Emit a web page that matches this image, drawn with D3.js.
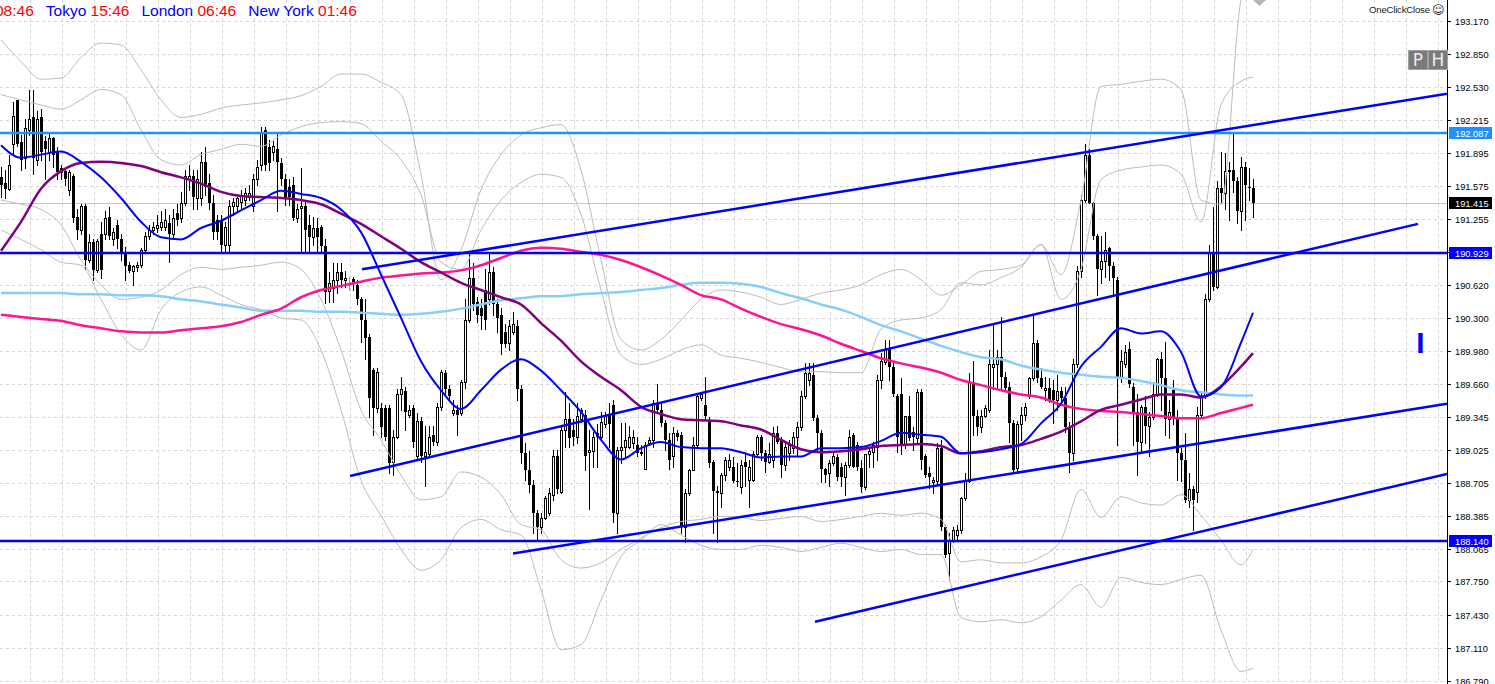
<!DOCTYPE html>
<html><head><meta charset="utf-8">
<script src="https://cdn.jsdelivr.net/npm/d3@7"></script>
<style>
html,body{margin:0;padding:0;background:#fff;overflow:hidden}
svg{display:block}
</style></head><body>
<svg id="c" width="1495" height="684"></svg>
<script>
// ---------------- DATA ----------------
const opens = [191.66,191.61,191.55,191.98,192.41,192.00,191.85,192.12,192.24,191.83,
192.24,192.01,191.91,192.04,191.91,191.75,191.72,191.54,191.67,191.28,
191.15,191.38,190.86,191.03,190.76,191.11,191.11,191.28,191.06,191.20,
191.06,190.93,190.81,190.75,190.79,190.81,190.96,191.09,191.15,191.17,
191.18,191.18,191.22,191.11,191.32,191.27,191.41,191.64,191.67,191.46,
191.46,191.81,191.61,191.41,191.25,191.25,191.01,191.01,191.38,191.38,
191.42,191.44,191.47,191.38,191.64,191.78,192.12,191.95,191.91,191.93,
191.80,191.64,191.57,191.59,191.27,191.36,191.38,191.20,191.08,191.17,
191.18,191.00,190.56,190.59,190.67,190.74,190.67,190.64,190.68,190.62,
190.48,190.28,190.12,189.80,189.43,189.43,189.43,189.43,188.91,189.15,
189.56,189.59,189.36,189.43,188.96,189.30,188.96,188.98,189.17,189.10,
189.44,189.77,189.61,189.38,189.41,189.38,189.68,190.28,190.69,190.45,
190.40,190.57,190.48,190.74,190.43,190.33,190.16,190.06,190.16,190.22,
189.61,188.99,188.83,188.68,188.41,188.28,188.36,188.41,188.59,188.96,
188.62,189.22,189.32,189.22,189.15,189.32,189.36,189.00,189.01,189.19,
189.15,189.27,189.36,189.46,188.41,189.02,189.05,189.05,189.09,189.07,
188.99,188.84,189.09,189.12,189.48,189.41,189.28,189.12,188.96,189.19,
189.17,188.28,188.61,188.83,189.07,189.53,189.46,189.31,188.91,188.63,
188.61,188.78,188.86,188.86,188.72,188.66,188.91,188.73,188.73,188.98,
189.15,188.99,188.91,188.93,189.19,189.12,188.88,188.99,189.04,189.15,
189.24,189.54,189.70,189.75,189.33,189.19,188.84,188.80,188.90,188.95,
188.86,188.76,188.88,189.17,189.07,188.85,188.66,188.98,189.00,189.05,
189.70,189.87,190.01,189.83,189.54,189.56,189.07,189.35,189.20,189.14,
189.58,188.96,188.80,188.71,188.72,189.04,188.28,188.03,188.15,188.20,
188.25,188.56,188.72,189.68,189.35,189.24,189.35,189.41,189.83,189.85,
189.92,189.73,189.63,189.28,188.85,189.27,189.36,189.54,189.72,190.06,
189.72,189.60,189.62,189.60,189.51,189.59,189.53,189.24,188.99,189.85,
190.75,191.44,191.88,191.41,191.09,190.77,190.85,190.98,190.80,190.67,
189.72,189.85,190.00,189.63,189.39,189.10,189.44,189.25,189.34,189.56,
189.90,189.72,189.32,189.60,189.32,188.99,188.93,188.54,188.64,188.62,
189.36,189.54,190.48,190.93,190.60,191.56,191.51,191.72,191.73,191.62,
191.33,191.76,191.57,191.56];

const highs = [191.76,191.73,191.88,192.39,192.41,192.07,192.22,192.51,192.51,192.30,
192.32,192.06,192.10,192.05,191.95,191.78,191.73,191.73,191.69,191.35,
191.40,191.40,191.11,191.06,191.06,191.23,191.33,191.37,191.17,191.25,
191.11,190.99,190.84,190.81,190.84,190.98,191.13,191.20,191.23,191.30,
191.33,191.35,191.30,191.35,191.40,191.52,191.73,191.78,191.73,191.73,
191.91,191.95,191.69,191.49,191.30,191.30,191.23,191.44,191.46,191.49,
191.54,191.56,191.59,191.69,191.83,192.15,192.15,192.02,192.01,192.10,
191.85,191.69,191.64,191.66,191.40,191.75,191.44,191.30,191.28,191.27,
191.20,191.06,190.74,190.83,190.83,190.83,190.75,190.70,190.70,190.67,
190.50,190.48,190.14,189.82,189.82,189.48,189.46,189.46,189.22,189.61,
189.73,189.63,189.46,189.46,189.38,189.34,189.25,189.25,189.25,189.48,
189.80,189.80,189.65,189.51,189.46,189.70,190.48,190.93,190.83,190.50,
190.48,190.77,190.94,190.79,190.48,190.40,190.24,190.28,190.36,190.28,
189.65,189.09,189.01,188.73,188.44,188.41,188.58,188.65,189.02,189.02,
189.24,189.58,189.48,189.32,189.48,189.43,189.41,189.22,189.20,189.27,
189.39,189.39,189.48,189.51,189.05,189.28,189.28,189.25,189.22,189.15,
189.07,189.10,189.15,189.51,189.66,189.49,189.31,189.19,189.24,189.22,
189.20,188.64,188.84,189.15,189.56,189.58,189.73,189.34,188.93,188.67,
188.80,188.95,188.98,188.95,188.90,188.93,189.00,188.93,189.01,189.17,
189.17,189.02,189.09,189.24,189.25,189.15,189.09,189.12,189.20,189.29,
189.59,189.86,189.86,189.86,189.36,189.22,188.85,188.93,188.99,188.98,
188.90,188.91,189.22,189.19,189.10,188.93,188.98,189.05,189.10,189.75,
189.96,190.09,190.09,189.88,189.56,189.72,189.35,189.54,189.24,189.61,
189.61,188.98,188.86,188.76,189.09,189.12,188.30,188.22,188.28,188.30,
188.57,188.80,189.77,189.88,189.41,189.41,189.46,189.99,190.24,189.99,
190.31,189.78,189.68,189.31,189.30,189.44,189.48,189.73,190.33,190.09,
189.82,189.73,189.72,189.70,189.75,189.63,189.63,189.29,189.90,190.80,
191.49,191.98,191.93,191.42,191.11,191.09,191.13,190.99,190.84,190.70,
189.99,190.04,190.07,189.67,189.56,189.46,189.54,189.39,189.68,189.91,
189.97,190.07,189.51,189.70,189.41,189.04,189.19,188.80,188.67,189.44,
189.59,190.53,191.01,191.37,191.62,191.91,191.90,191.81,192.09,191.66,
191.86,191.81,191.75,191.64];

const lows = [191.47,191.46,191.54,191.88,191.96,191.73,191.75,192.07,191.69,191.78,
191.83,191.64,191.83,191.76,191.64,191.64,191.59,191.49,191.23,191.06,
191.11,190.77,190.84,190.67,190.74,190.69,191.06,191.06,191.01,190.98,
190.86,190.67,190.74,190.62,190.75,190.79,190.94,191.06,191.11,191.13,
191.15,191.15,190.84,191.08,191.20,191.23,191.39,191.54,191.35,191.35,
191.39,191.49,191.35,191.06,191.06,190.94,190.94,190.94,191.30,191.33,
191.36,191.39,191.44,191.33,191.59,191.73,191.73,191.73,191.83,191.33,
191.59,191.39,191.39,191.25,191.23,190.93,190.94,190.94,191.01,190.93,
190.93,190.44,190.45,190.45,190.54,190.60,190.60,190.57,190.57,190.43,
190.07,189.90,189.34,189.17,189.39,189.15,189.12,188.80,188.78,189.14,
189.41,189.22,189.34,189.05,188.93,188.91,188.67,188.96,189.07,189.07,
189.41,189.56,189.51,189.36,189.17,189.36,189.62,190.26,190.38,190.26,
190.19,190.19,190.43,190.33,190.16,189.95,190.02,189.99,190.14,189.51,
188.90,188.73,188.62,188.22,188.15,188.22,188.35,188.39,188.54,188.61,
188.61,189.05,189.05,189.07,189.09,189.29,188.83,188.45,188.86,188.86,
189.12,189.24,189.05,188.33,188.22,188.90,188.96,189.04,189.04,188.96,
188.97,188.84,189.07,189.05,189.38,189.25,189.02,188.84,188.86,189.12,
188.22,188.13,188.59,188.83,189.05,189.51,189.31,188.86,188.22,188.13,
188.47,188.73,188.83,188.71,188.67,188.61,188.67,188.47,188.72,188.96,
188.93,188.81,188.90,188.86,189.09,188.76,188.83,188.93,188.99,188.96,
189.22,189.53,189.65,189.31,189.02,188.71,188.71,188.67,188.88,188.73,
188.67,188.59,188.86,188.86,188.83,188.62,188.64,188.86,188.86,188.93,
189.62,189.85,189.70,189.54,189.00,188.98,189.04,189.12,189.02,189.09,
188.84,188.76,188.65,188.61,188.69,188.25,187.99,187.77,188.13,188.15,
188.22,188.54,188.71,189.17,189.17,189.20,189.34,189.39,189.61,189.61,
189.61,189.61,189.10,188.81,188.80,189.12,189.31,189.53,189.70,189.68,
189.62,189.51,189.49,189.28,189.41,189.46,189.20,188.81,188.93,189.83,
190.70,191.42,191.41,191.06,190.52,190.64,190.70,190.67,190.52,189.07,
189.68,189.83,189.63,189.07,188.78,188.99,189.09,188.96,189.32,189.54,
189.41,189.17,189.14,189.27,188.73,188.72,188.52,188.47,188.25,188.52,
189.34,189.53,190.46,190.57,190.59,191.41,191.35,191.25,191.52,191.22,
191.15,191.25,191.44,191.28];

const closes = [191.59,191.55,191.78,192.25,191.98,191.83,192.14,192.22,191.85,192.22,
191.91,191.93,192.04,191.88,191.71,191.70,191.64,191.71,191.27,191.15,
191.38,190.86,191.03,190.76,191.04,190.76,191.27,191.09,191.13,191.06,
190.93,190.80,190.75,190.80,190.81,190.96,191.09,191.15,191.18,191.20,
191.23,191.25,191.11,191.27,191.25,191.41,191.67,191.67,191.47,191.64,
191.81,191.57,191.41,191.13,191.13,191.01,191.18,191.38,191.42,191.46,
191.49,191.51,191.51,191.64,191.76,192.10,191.78,191.80,191.96,191.81,
191.64,191.47,191.47,191.27,191.35,191.38,191.15,191.08,191.17,191.08,
191.00,190.55,190.64,190.67,190.74,190.67,190.69,190.64,190.63,190.48,
190.28,190.11,189.53,189.43,189.78,189.24,189.15,188.90,189.15,189.56,
189.61,189.39,189.41,189.10,189.30,188.96,189.00,189.15,189.10,189.44,
189.78,189.61,189.54,189.41,189.36,189.68,190.28,190.69,190.43,190.33,
190.32,190.28,190.74,190.43,190.30,190.05,190.05,190.22,190.24,189.61,
188.99,188.83,188.68,188.41,188.28,188.36,188.56,188.61,188.96,188.64,
189.22,189.32,189.14,189.15,189.35,189.41,188.96,189.02,189.15,189.15,
189.29,189.35,189.27,188.41,189.02,189.05,189.12,189.15,189.15,188.99,
189.00,189.07,189.12,189.48,189.41,189.28,189.12,188.93,189.19,189.15,
188.28,188.61,188.83,189.07,189.54,189.56,189.35,188.90,188.63,188.61,
188.78,188.93,188.93,188.72,188.71,188.88,188.86,188.86,188.98,189.15,
188.99,188.91,188.98,189.19,189.10,188.88,189.05,189.07,189.15,189.24,
189.54,189.77,189.77,189.33,189.19,188.84,188.78,188.90,188.96,188.76,
188.76,188.88,189.15,188.86,188.86,188.66,188.98,189.01,189.07,189.70,
189.88,189.99,189.83,189.56,189.15,189.07,189.35,189.14,189.15,189.58,
188.93,188.78,188.76,188.73,189.04,188.28,188.01,188.15,188.25,188.25,
188.56,188.73,189.68,189.35,189.24,189.35,189.43,189.85,189.85,189.92,
189.73,189.62,189.28,188.83,189.27,189.36,189.44,189.72,190.06,189.72,
189.63,189.62,189.51,189.51,189.59,189.53,189.24,188.99,189.85,190.75,
191.44,191.88,191.41,191.09,190.77,190.85,190.96,190.80,190.69,189.72,
189.88,189.97,189.66,189.39,189.10,189.44,189.25,189.34,189.56,189.90,
189.72,189.32,189.39,189.32,188.99,188.93,188.54,188.64,188.54,189.36,
189.54,190.48,190.93,190.60,191.56,191.51,191.72,191.73,191.62,191.33,
191.76,191.59,191.56,191.415];

// indicator lines, sampled every 5 bars (bar 0,5,...,310) plus last bar 313
const maBlue = [191.97,191.85,191.88,191.91,191.81,191.66,191.46,191.23,191.08,191.06,191.17,191.24,191.34,191.44,191.53,191.50,191.46,191.35,191.13,190.72,190.30,189.88,189.60,189.42,189.60,189.80,189.90,189.79,189.60,189.39,189.12,188.93,189.04,189.10,189.05,189.04,189.04,189.00,188.95,188.96,188.96,189.04,189.04,189.05,189.11,189.19,189.17,189.15,188.99,189.00,189.03,189.08,189.28,189.47,189.83,190.02,190.20,190.15,190.17,189.97,189.54,189.63,190.06,190.35];
const maPurple = [190.95,191.23,191.55,191.72,191.80,191.81,191.80,191.77,191.71,191.66,191.60,191.52,191.48,191.47,191.46,191.44,191.40,191.31,191.21,191.09,190.97,190.84,190.74,190.64,190.57,190.50,190.43,190.25,190.08,189.88,189.73,189.60,189.44,189.37,189.32,189.31,189.30,189.26,189.22,189.12,189.03,189.00,189.01,189.03,189.06,189.07,189.08,189.06,188.99,189.01,189.05,189.07,189.13,189.20,189.30,189.41,189.46,189.51,189.56,189.56,189.53,189.64,189.83,189.96];
const maPink = [190.33,190.31,190.29,190.27,190.23,190.20,190.17,190.16,190.16,190.18,190.20,190.22,190.26,190.33,190.39,190.50,190.57,190.61,190.65,190.69,190.71,190.73,190.74,190.76,190.81,190.88,190.95,190.98,190.97,190.94,190.91,190.86,190.79,190.71,190.62,190.52,190.48,190.39,190.31,190.24,190.19,190.13,190.05,189.98,189.91,189.86,189.82,189.77,189.70,189.65,189.60,189.56,189.53,189.46,189.42,189.40,189.39,189.37,189.35,189.33,189.33,189.38,189.43,189.46];
const maLightBlue = [190.54,190.54,190.54,190.54,190.53,190.53,190.52,190.52,190.51,190.48,190.46,190.43,190.40,190.37,190.37,190.37,190.36,190.36,190.35,190.34,190.33,190.34,190.36,190.39,190.43,190.47,190.49,190.51,190.51,190.53,190.54,190.55,190.57,190.59,190.62,190.64,190.64,190.63,190.60,190.54,190.49,190.43,190.38,190.31,190.23,190.17,190.10,190.03,189.97,189.92,189.90,189.84,189.80,189.77,189.75,189.73,189.72,189.69,189.65,189.60,189.58,189.56,189.55,189.55];
const bandUpperOuter = [192.99,192.78,192.61,192.62,192.82,192.96,192.94,192.70,192.41,192.24,192.27,192.33,192.36,192.38,192.41,192.45,192.54,192.66,192.66,192.58,192.46,191.69,190.67,190.96,191.54,191.88,192.07,192.14,192.17,191.73,190.86,190.09,189.99,190.09,190.28,190.48,190.57,190.55,190.50,190.43,190.48,190.54,190.57,190.62,190.72,190.77,190.67,190.52,190.62,190.75,190.77,190.81,191.01,190.72,191.44,192.54,192.56,192.59,192.61,192.51,191.44,191.40,193.38,193.67];
const bandUpperInner = [192.46,192.41,192.36,192.32,192.41,192.51,192.46,192.12,191.83,191.78,191.88,191.93,191.98,191.96,192.07,192.15,192.19,192.20,192.18,192.01,191.83,191.49,190.84,190.77,191.15,191.44,191.61,191.69,191.66,191.30,190.57,189.94,189.85,189.90,189.99,190.04,189.94,189.91,189.87,189.82,189.78,189.78,189.77,189.77,190.19,190.28,190.30,190.38,190.64,190.62,190.69,190.79,191.01,190.48,190.77,191.64,191.73,191.76,191.78,191.69,191.23,192.36,192.59,192.63];
const bandLowerInner = [191.44,191.40,191.35,191.20,190.86,190.62,190.48,190.50,190.57,190.72,190.79,190.77,190.79,190.81,190.84,190.77,190.48,189.99,189.41,189.12,188.78,188.54,188.57,188.81,188.76,188.59,188.30,188.25,187.96,187.88,187.93,188.06,188.17,188.27,188.33,188.35,188.38,188.37,188.34,188.36,188.38,188.33,188.35,188.38,188.41,188.39,188.41,188.35,187.94,187.96,187.93,187.93,187.99,188.15,188.64,188.37,188.57,188.51,188.49,188.59,188.39,188.15,187.91,188.06];
const bandLowerOuter = [191.15,191.06,190.96,190.84,190.81,190.48,190.14,189.99,190.38,190.55,190.60,190.52,190.43,190.38,190.30,190.28,189.99,189.41,188.73,188.39,188.06,187.86,187.96,188.27,188.35,188.25,188.20,187.67,187.09,187.14,187.57,187.99,188.15,188.30,188.20,188.10,188.06,188.06,188.10,188.08,188.04,188.08,188.12,188.08,188.04,188.06,188.01,188.01,187.40,187.36,187.38,187.35,187.41,187.57,187.72,187.50,187.79,187.74,187.72,187.77,187.81,187.28,186.88,186.91];

// trend lines (bar index, price)
const trendStartBar   = [90.25, 87.25, 128, 203.5];
const trendStartPrice = [190.77, 188.77, 188.02, 187.36];
const trendEndBar     = [361.5, 354.25, 361.5, 361.5];
const trendEndPrice   = [192.47, 191.21, 189.47, 188.79];

// horizontal levels
const levelPrices = [192.087, 190.929, 188.140];
const currentPrice = 191.415;

// price axis tick labels
const tickLabels = ["193.170","192.850","192.530","192.215","191.895","191.575","191.255","190.935","190.620","190.300","189.980","189.660","189.345","189.025","188.705","188.385","188.065","187.750","187.430","187.110","186.790"];

// session clock texts
const clockCities = ["", "Tokyo", "London", "New York"];
const clockTimes = ["08:46", "15:46", "06:46", "01:46"];

// ---------------- DRAW ----------------
const svg = d3.select('#c');
const plotW = 1447, H = 684;
const nBars = closes.length;
const x = d3.scaleLinear().domain([0, nBars - 1]).range([1, 1253]);
const y = d3.scaleLinear().domain([186.79, 193.17]).range([680.7, 21.3]);
const ticks = tickLabels.map(Number);

svg.append('rect').attr('width', 1495).attr('height', 684).attr('fill', '#fff');
svg.append('defs').append('clipPath').attr('id', 'plot')
  .append('rect').attr('x', 0).attr('y', 0).attr('width', plotW).attr('height', H);

const plot = svg.append('g').attr('clip-path', 'url(#plot)');

// grid
const grid = plot.append('g').attr('stroke', '#d4d4d4').attr('stroke-dasharray', '3,3')
  .attr('shape-rendering', 'crispEdges');
ticks.forEach(t => {
  const yy = Math.round(y(t)) + 0.5;
  grid.append('line').attr('x1', 0).attr('x2', plotW).attr('y1', yy).attr('y2', yy);
});
for (let b = 7.25; x(b) < plotW; b += 8) {
  const xx = Math.round(x(b)) + 0.5;
  grid.append('line').attr('x1', xx).attr('x2', xx).attr('y1', 0).attr('y2', H);
}

// bid line
plot.append('line').attr('x1', 0).attr('x2', plotW)
  .attr('y1', Math.round(y(currentPrice)) + 0.5).attr('y2', Math.round(y(currentPrice)) + 0.5)
  .attr('stroke', '#c8c8c8').attr('shape-rendering', 'crispEdges');

// candles
const cg = plot.append('g').attr('shape-rendering', 'crispEdges');
closes.forEach((c, i) => {
  const o = opens[i];
  const hi = Math.max(highs[i], o, c), lo = Math.min(lows[i], o, c);
  const X = Math.round(x(i));
  const doji = o === c;
  const col = doji ? '#00ff00' : '#000';
  cg.append('line').attr('x1', X + 0.5).attr('x2', X + 0.5)
    .attr('y1', Math.round(y(hi))).attr('y2', Math.round(y(lo)) + 1)
    .attr('stroke', col);
  const yo = Math.round(y(o)), yc = Math.round(y(c));
  if (doji) {
    cg.append('line').attr('x1', X - 1).attr('x2', X + 2).attr('y1', yo + 0.5).attr('y2', yo + 0.5).attr('stroke', col);
  } else if (c > o) {
    const h = Math.max(yo - yc, 1);
    cg.append('rect').attr('x', X - 0.5).attr('y', yc + 0.5).attr('width', 2).attr('height', h)
      .attr('fill', '#fff').attr('stroke', '#000');
  } else {
    const h = Math.max(yc - yo, 1);
    cg.append('rect').attr('x', X - 1).attr('y', yo).attr('width', 3).attr('height', h).attr('fill', '#000');
  }
});

// indicator lines
const maBars = d3.range(0, 311, 5).concat([nBars - 1]);
function drawSeries(vals, color, width) {
  const pts = vals.map((v, k) => [x(maBars[k]), y(v)]);
  plot.append('path').attr('d', d3.line().curve(d3.curveMonotoneX)(pts))
    .attr('fill', 'none').attr('stroke', color).attr('stroke-width', width)
    .attr('stroke-linejoin', 'round');
}
[bandUpperOuter, bandUpperInner, bandLowerInner, bandLowerOuter].forEach(b => drawSeries(b, '#bdbdbd', 1));
drawSeries(maLightBlue, '#87cefa', 2.5);
drawSeries(maPink, '#ff1493', 2.5);
drawSeries(maPurple, '#800080', 2.5);
drawSeries(maBlue, '#0000ff', 2);

// horizontal levels
const levelColors = ['#1e90ff', '#0000ff', '#0000ff'];
levelPrices.forEach((p, k) => {
  const yy = Math.round(y(p));
  plot.append('line').attr('x1', 0).attr('x2', plotW).attr('y1', yy).attr('y2', yy)
    .attr('stroke', levelColors[k]).attr('stroke-width', 2.5);
});

// trend lines
trendStartBar.forEach((b0, k) => {
  plot.append('line')
    .attr('x1', x(b0)).attr('y1', y(trendStartPrice[k]))
    .attr('x2', x(trendEndBar[k])).attr('y2', y(trendEndPrice[k]))
    .attr('stroke', '#0000ff').attr('stroke-width', 2.5);
});

// chart shift marker
svg.append('path').attr('d', 'M1253,0 L1266,0 L1259.5,6 Z').attr('fill', '#b4b4b4');

// blue "I" object
svg.append('text').attr('x', 1420.5).attr('y', 353).attr('text-anchor', 'middle')
  .attr('font-family', 'Liberation Sans, Arial, sans-serif').attr('font-weight', 'bold')
  .attr('font-size', 30).attr('fill', '#0000ff').text('I');

// price axis
const ax = svg.append('g').attr('font-family', 'Liberation Sans, Arial, sans-serif').attr('font-size', 9.3);
ax.append('line').attr('x1', plotW + 0.5).attr('x2', plotW + 0.5).attr('y1', 0).attr('y2', H)
  .attr('stroke', '#000').attr('shape-rendering', 'crispEdges');
ticks.forEach((t, k) => {
  const yy = Math.round(y(t)) + 0.5;
  ax.append('line').attr('x1', plotW).attr('x2', plotW + 4).attr('y1', yy).attr('y2', yy)
    .attr('stroke', '#000').attr('shape-rendering', 'crispEdges');
  ax.append('text').attr('x', 1455).attr('y', yy + 3.5).attr('fill', '#000').text(tickLabels[k]);
});

// price boxes
const boxPrices = levelPrices.concat([currentPrice]);
const boxColors = ['#1e90ff', '#0000ff', '#0000ff', '#000000'];
boxPrices.forEach((p, k) => {
  const yy = y(p);
  ax.append('rect').attr('x', 1449).attr('y', Math.round(yy) - 6).attr('width', 43).attr('height', 12)
    .attr('fill', boxColors[k]);
  ax.append('text').attr('x', 1455).attr('y', Math.round(yy) + 3.5).attr('fill', '#fff')
    .text(d3.format('.3f')(p));
});

// clocks
const clk = svg.append('text').attr('x', -5).attr('y', 16)
  .attr('font-family', 'Liberation Sans, Arial, sans-serif').attr('font-size', 15.5);
clockCities.forEach((c, k) => {
  if (c) clk.append('tspan').attr('fill', '#0000ff').attr('dx', 12).text(c + ' ');
  clk.append('tspan').attr('fill', '#ff0000').text(clockTimes[k]);
});

// OneClickClose
svg.append('text').attr('x', 1369).attr('y', 13).attr('font-family', 'Liberation Sans, Arial, sans-serif')
  .attr('font-size', 9.6).attr('fill', '#1a1a1a').attr('letter-spacing', -0.2).text('OneClickClose');
svg.append('text').attr('x', 1432).attr('y', 14).attr('font-family', 'DejaVu Sans, sans-serif')
  .attr('font-size', 12).attr('fill', '#1a1a1a').text('\u263A');

// P / H buttons
[['P', 1408], ['H', 1428]].forEach(([t, bx]) => {
  svg.append('rect').attr('x', bx + 0.5).attr('y', 50.5).attr('width', 19).attr('height', 19)
    .attr('fill', '#7a7a7a').attr('stroke', '#a0a0a0').attr('shape-rendering', 'crispEdges');
  svg.append('text').attr('x', bx + 10).attr('y', 66).attr('text-anchor', 'middle')
    .attr('font-family', 'DejaVu Sans, sans-serif').attr('font-size', 17).attr('fill', '#eeeeee').text(t);
});
</script>
</body></html>
